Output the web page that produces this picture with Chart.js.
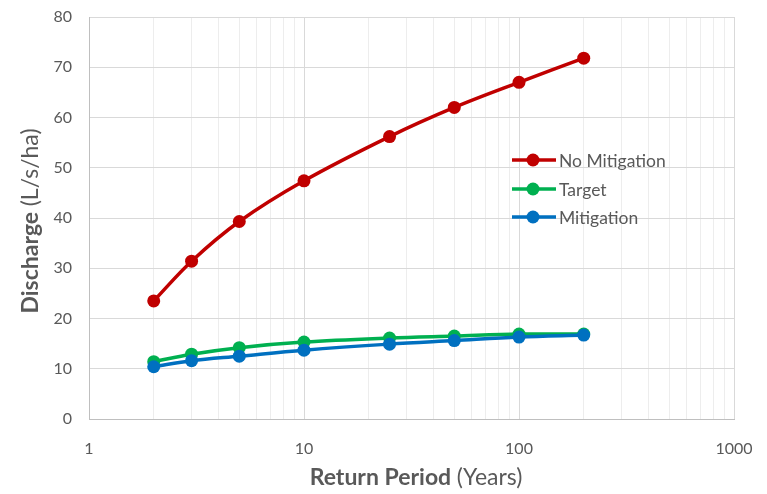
<!DOCTYPE html>
<html><head><meta charset="utf-8">
<script src="https://cdn.jsdelivr.net/npm/chart.js@4"></script>
<style>html,body{margin:0;padding:0;background:#fff}#wrap{width:767px;height:494px;position:relative}</style>
</head><body><div id="wrap"><canvas id="c"></canvas></div>
<script>
const returnPeriods = [2, 3, 5, 10, 25, 50, 100, 200];
const noMitigation = [23.5, 31.4, 39.3, 47.4, 56.2, 62.0, 67.0, 71.8];
const target = [11.4, 12.9, 14.2, 15.3, 16.1, 16.5, 16.9, 16.9];
const mitigation = [10.4, 11.6, 12.5, 13.7, 14.9, 15.6, 16.3, 16.7];
const seriesNames = ['No Mitigation', 'Target', 'Mitigation'];
const seriesColors = ['#c00000', '#00b050', '#0070c0'];
const xMajorTicks = [1, 10, 100, 1000];
const yTitleParts = [['Discharge ', 'bold'], ['(L/s/ha)', 'normal']];
const xTitleParts = [['Return Period ', 'bold'], ['(Years)', 'normal']];

const FONT = 'Lato';
const TXT = '#595959';

function pts(vals) { return returnPeriods.map((x, i) => ({ x: x, y: vals[i] })); }
const seriesValues = [noMitigation, target, mitigation];

const datasets = seriesValues.map((v, i) => ({
  label: seriesNames[i],
  data: pts(v),
  borderColor: seriesColors[i],
  backgroundColor: seriesColors[i],
  borderWidth: 3.5,
  pointRadius: 6.5,
  pointHoverRadius: 6.5,
  pointBorderWidth: 0,
  tension: 0.35,
  order: 3 - i
}));

function drawMixed(ctx, parts, size) {
  let total = 0;
  const widths = parts.map(p => { ctx.font = p[1] + ' ' + size + 'px ' + FONT; const w = ctx.measureText(p[0]).width; total += w; return w; });
  let x = -total / 2;
  parts.forEach((p, i) => { ctx.font = p[1] + ' ' + size + 'px ' + FONT; ctx.fillText(p[0], x, 0); x += widths[i]; });
}

const overlay = {
  id: 'overlay',
  afterDraw(chart) {
    const ctx = chart.ctx;
    ctx.save();
    ctx.fillStyle = TXT;
    ctx.textAlign = 'left';
    ctx.textBaseline = 'alphabetic';
    ctx.save();
    ctx.translate(416, 485);
    drawMixed(ctx, xTitleParts, 23);
    ctx.restore();
    ctx.save();
    ctx.translate(38, 221);
    ctx.rotate(-Math.PI / 2);
    drawMixed(ctx, yTitleParts, 23);
    ctx.restore();
    ctx.textBaseline = 'middle';
    const rows = [160, 189, 217];
    seriesNames.forEach((n, i) => {
      const y = rows[i];
      ctx.strokeStyle = seriesColors[i];
      ctx.lineWidth = 3.5;
      ctx.beginPath(); ctx.moveTo(512, y); ctx.lineTo(556, y); ctx.stroke();
      ctx.fillStyle = seriesColors[i];
      ctx.beginPath(); ctx.arc(533, y, 6.5, 0, Math.PI * 2); ctx.fill();
      ctx.fillStyle = TXT;
      ctx.font = '17.5px ' + FONT;
      ctx.fillText(n, 559, y + 1);
    });
    ctx.restore();
  }
};

new Chart(document.getElementById('c'), {
  type: 'line',
  data: { datasets: datasets },
  plugins: [overlay],
  options: {
    responsive: true,
    maintainAspectRatio: false,
    animation: false,
    layout: { padding: { top: 17, right: 33, left: 0, bottom: 0 } },
    plugins: { legend: { display: false }, tooltip: { enabled: false } },
    scales: {
      x: {
        type: 'logarithmic',
        min: 1, max: 1000,
        afterBuildTicks(s) {
          const t = [];
          for (let d = 1; d < 1000; d *= 10) for (let k = 1; k < 10; k++) t.push(k * d);
          t.push(1000);
          s.ticks = t.map(v => ({ value: v, major: xMajorTicks.includes(v) }));
        },
        afterFit(s) { s.height = 75; s.paddingLeft = 0; s.paddingRight = 0; },
        ticks: {
          autoSkip: false, maxRotation: 0, padding: 20,
          color: TXT, font: { family: FONT, size: 16 },
          callback: v => xMajorTicks.includes(v) ? String(v) : ''
        },
        grid: {
          drawTicks: false,
          lineWidth: 1,
          color: c => (c.tick && xMajorTicks.includes(c.tick.value)) ? '#d9d9d9' : '#ededed'
        },
        border: { color: '#bfbfbf', width: 1 }
      },
      y: {
        min: 0, max: 80,
        afterFit(s) { s.width = 89; s.paddingTop = 0; s.paddingBottom = 0; },
        ticks: { stepSize: 10, padding: 17, color: TXT, font: { family: FONT, size: 16 } },
        grid: { drawTicks: false, color: '#d9d9d9' },
        border: { color: '#bfbfbf', width: 1 }
      }
    }
  }
});
</script></body></html>
